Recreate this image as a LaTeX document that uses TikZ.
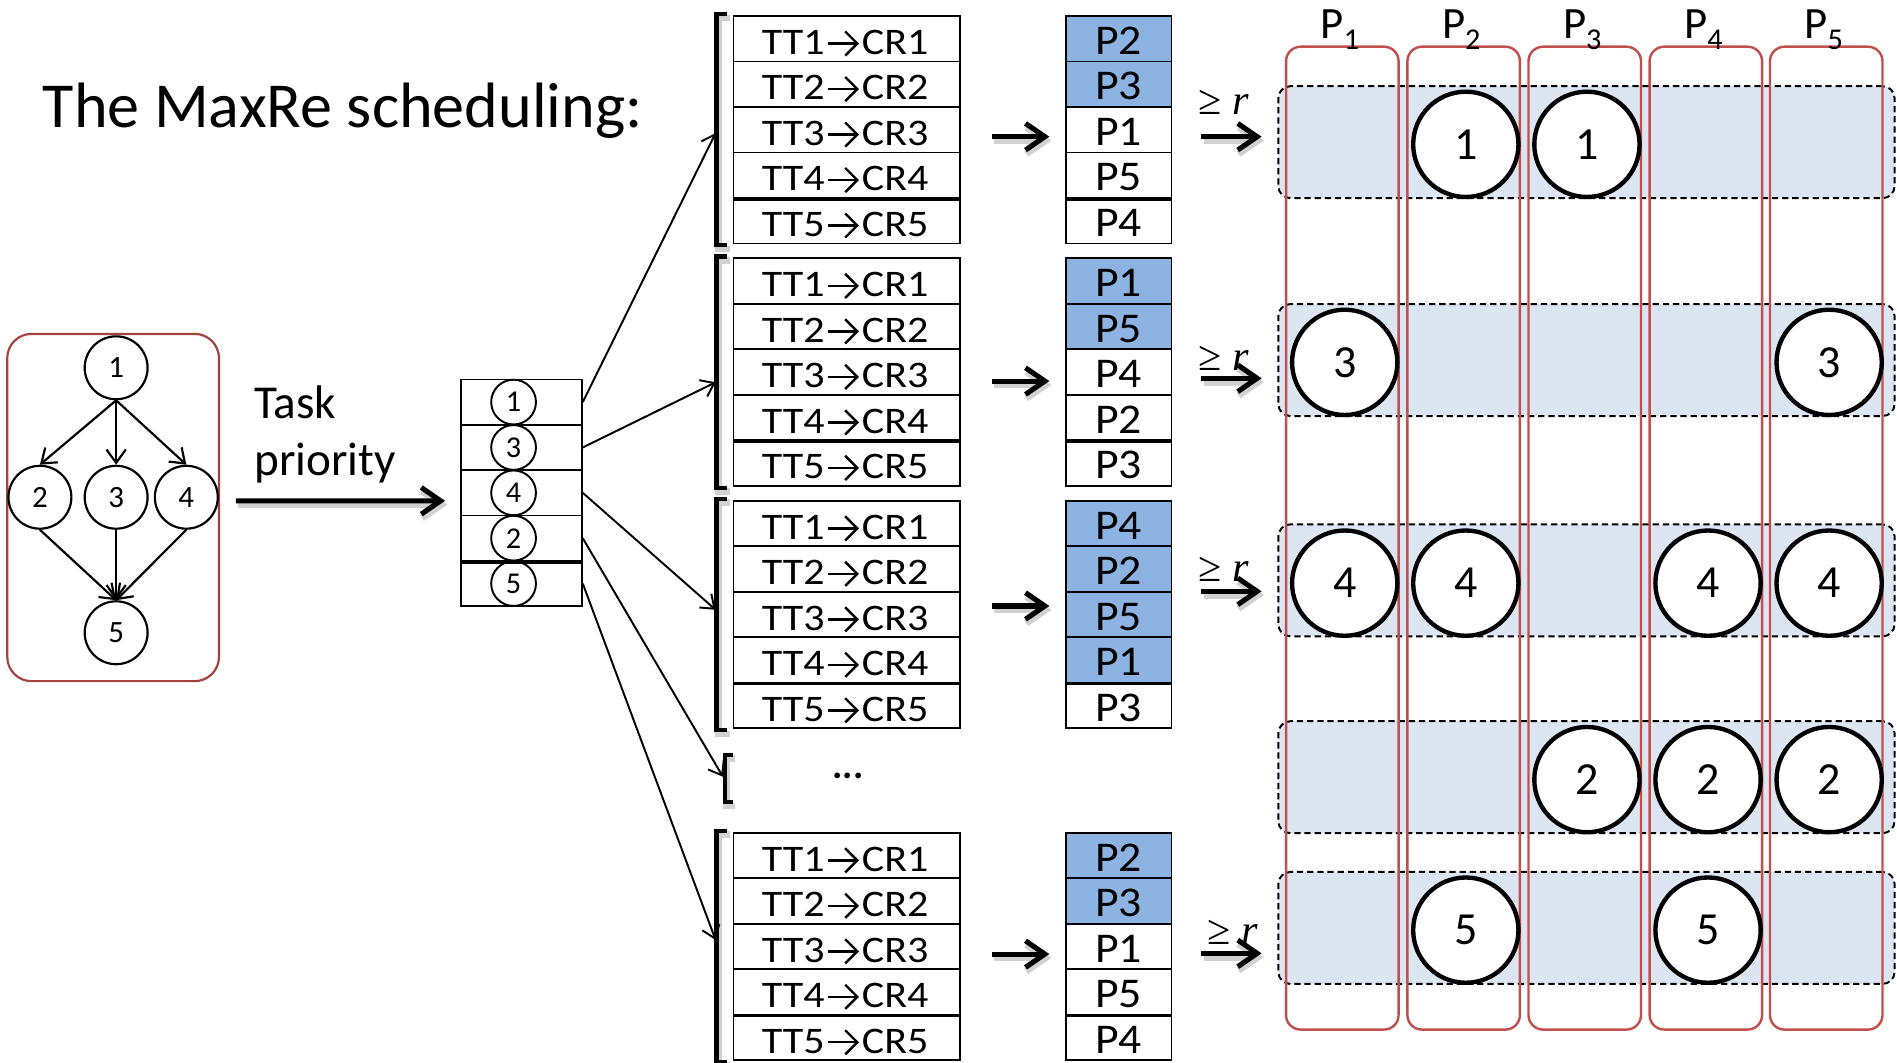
\documentclass[tikz,border=0pt]{standalone}
\usepackage{graphicx}
\usepackage{fontspec}
\setmainfont{Carlito}
\newfontfamily\timesfont{Liberation Serif}
\usetikzlibrary{arrows.meta,calc}
\definecolor{hiblue}{HTML}{8DB3E2}
\definecolor{slotblue}{HTML}{DCE6F2}
\definecolor{colred}{HTML}{C0504D}
\definecolor{boxred}{HTML}{A3423F}
\tikzset{
  dagnode/.style={circle, draw, line width=0.9pt, minimum size=26pt, inner sep=0pt, font=\fontsize{12.8pt}{14pt}\selectfont},
  dagedge/.style={line width=0.9pt, -{Straight Barb[length=5.5pt,width=8pt]}},
  listrow/.style={draw, line width=0.7pt, minimum width=50pt, minimum height=18.75pt, inner sep=0pt},
  listcirc/.style={circle, draw, line width=0.8pt, minimum size=18.5pt, inner sep=0pt, font=\fontsize{12.5pt}{14pt}\selectfont},
  fanline/.style={line width=0.8pt, -{Straight Barb[length=5pt,width=7.5pt]}},
  softshade/.style={preaction={draw=black!18, line width=2.8pt, transform canvas={xshift=0.9pt,yshift=-1.6pt}}},
  bigarrow/.style={line width=2.1pt, -{Straight Barb[length=8pt,width=11pt]}, softshade},
  bracketline/.style={line width=1.7pt, line join=miter, softshade},
  ttrow/.style={draw, line width=0.7pt, minimum width=93.6pt, minimum height=18.8pt, inner sep=0pt},
  tttext/.style={inner sep=0pt, font=\fontsize{15.5pt}{17pt}\selectfont},
  ttarrow/.style={line width=1pt, -{Straight Barb[length=5pt,width=10pt]}},
  prow/.style={draw, line width=0.7pt, minimum width=43.65pt, minimum height=18.8pt, inner sep=0pt},
  ptext/.style={inner sep=0pt, font=\fontsize{17.5pt}{19pt}\selectfont},
  slot/.style={draw, dash pattern=on 2.6pt off 1.6pt, line width=0.8pt, fill=slotblue, rounded corners=5pt, minimum width=254.7pt, minimum height=46.3pt, inner sep=0pt},
  procol/.style={draw=colred, line width=1pt, rounded corners=6pt, minimum width=46.5pt, minimum height=406.2pt, inner sep=0pt},
  collabel/.style={inner sep=0pt, font=\fontsize{18.5pt}{20pt}\selectfont},
  taskcirc/.style={circle, draw, fill=white, line width=1.8pt, minimum size=43.5pt, inner sep=0pt, font=\fontsize{19pt}{21pt}\selectfont},
  geqlabel/.style={inner sep=0pt, font=\timesfont\fontsize{17.5pt}{20pt}\selectfont},
}
\begin{document}
\begin{tikzpicture}[x=0.5pt,y=-0.5pt]
\useasboundingbox (0,0) rectangle (1568,878);

% title
\node[anchor=base west, inner sep=0pt, font=\fontsize{26.5pt}{30pt}\selectfont] (title) at (35,105) {The MaxRe scheduling:};

% task graph
\node[draw=boxred, line width=0.9pt, rounded corners=10pt, minimum width=87.5pt, minimum height=143.5pt, inner sep=0pt] (dag) at (93.5,419.5) {};
\node[dagnode] (n1) at (96,304) {1};
\node[dagnode] (n2) at (33,411) {2};
\node[dagnode] (n3) at (96,411) {3};
\node[dagnode] (n4) at (154,411) {4};
\node[dagnode] (n5) at (96,523) {5};
\foreach \a/\b in {n1.south/n2.north, n1.south/n3.north, n1.south/n4.north, n2.south/n5.north, n3.south/n5.north, n4.south/n5.north}
  \draw[dagedge] (\a) -- (\b);

% task priority label
\node[anchor=base west, inner sep=0pt, font=\fontsize{19.5pt}{22pt}\selectfont] (prio1) at (210,345.7) {Task};
\node[anchor=base west, inner sep=0pt, font=\fontsize{19.5pt}{22pt}\selectfont] (prio2) at (210,392.7) {priority};

% priority list
\foreach \v [count=\i] in {1,3,4,2,5} {
  \node[listrow] (lr\i) at (431, 294.85+\i*37.5) {};
  \node[listcirc] (lc\i) at (424.5, 294.85+\i*37.5) {\v};
}
\draw[line width=1.6pt] (lr4.south west) -- (lr4.south east);
\draw[bigarrow] ($(dag.east)+(13,-5.5)$) -- ($(lr3.west)+(-12.4,6.6)$);

% processor columns and time slots
\foreach \s/\cy in {1/117.5,2/297.6,3/479.7,4/642.4,5/767}
  \node[slot] (s\s) at (1311.3,\cy) {};
\foreach \j/\L in {1/1063,2/1163.3,3/1263.4,4/1363.5,5/1463} {
  \node[procol] (c\j) at (\L+46.5,444.8) {};
  \node[collabel, anchor=base] (cl\j) at (\L+44.5,31.7) {P\raisebox{-4.8pt}{\fontsize{12.5pt}{13pt}\selectfont\j}};
}
\foreach \s/\cy/\v/\cols in {1/119.3/1/{2,3}, 2/299.5/3/{1,5}, 3/482/4/{1,2,4,5}, 4/644.4/2/{3,4,5}, 5/768.8/5/{2,4}}
  \foreach \j in \cols
    \node[taskcirc] (r\s-\j) at (1111.5+100.1*\j-100.1, \cy) {\v};

% mapping tables and processor lists
\foreach \k/\T/\nb/\pl/\dy/\ry in {1/13.2/2/{2,3,1,5,4}/5.8/5.8, 2/213.5/2/{1,5,4,2,3}/7.5/5.2, 3/413.9/4/{4,2,5,1,3}/-7/-19.1, 5/688.3/2/{2,3,1,5,4}/6.3/5.7} {
  \foreach \pv [count=\i] in \pl {
    \ifnum\i>\nb \def\pfill{white}\else\def\pfill{hiblue}\fi
    \node[ttrow] (t\k-\i) at (700, \T-18.8+\i*37.6) {};
    \node[prow, fill=\pfill] (p\k-\i) at (924.7, \T-18.8+\i*37.6) {};
    \node[ptext, anchor=base] (pt\k-\i) at ($(p\k-\i.center)+(0,13)$) {\scalebox{1.08}[1]{P\pv}};
    \node[tttext, anchor=base east] (ta\k-\i) at ($(t\k-\i.center)+(-18,13)$) {\scalebox{1.12}[1]{TT\i}};
    \node[tttext, anchor=base west] (tb\k-\i) at ($(t\k-\i.center)+(12,13)$) {\scalebox{1.12}[1]{CR\i}};
    \draw[ttarrow] ($(t\k-\i.center)+(-16,4)$) -- ($(t\k-\i.center)+(10,4)$);
  }
  \draw[line width=1.5pt] (t\k-4.south west) -- (t\k-4.south east);
  \draw[line width=1.5pt] (p\k-4.south west) -- (p\k-4.south east);
  \draw[bracketline] ($(t\k-1.north west)+(-4.5,-0.8)$) -- ++(-9,0) |- ($(t\k-5.south west)+(-4.5,0.8)$);
  \draw[bigarrow] ($(t\k-3.east)+(25.3,\dy)$) -- ($(p\k-3.west)+(-13,\dy)$);
  \draw[bigarrow] ($(p\k-3.east)+(24,\ry)$) -- ($(p\k-3.east -| s\k.west)+(-13,\ry)$);
}

% elided case
\draw[bracketline] (606,624) -- (599,624) -- (599,663) -- (606,663);
\node[inner sep=0pt, font=\bfseries\fontsize{16pt}{18pt}\selectfont] (dots) at (701,641) {...};

% threshold labels
\node[geqlabel, anchor=base west] (g1) at (990,95) {≥ \textit{r}};
\node[geqlabel, anchor=base west] (g2) at (990,306) {≥ \textit{r}};
\node[geqlabel, anchor=base west] (g3) at (990,481) {≥ \textit{r}};
\node[geqlabel, anchor=base west] (g5) at (998,781) {≥ \textit{r}};

% fan-out from the priority list
\coordinate (b1) at (591.5,110);
\coordinate (b2) at (591.5,316);
\coordinate (b3) at (591.5,504);
\coordinate (b4) at (597.5,642);
\coordinate (b5) at (591.5,777);
\foreach \i in {1,...,5}
  \draw[fanline] (lr\i.east) -- (b\i);

\end{tikzpicture}
\end{document}
